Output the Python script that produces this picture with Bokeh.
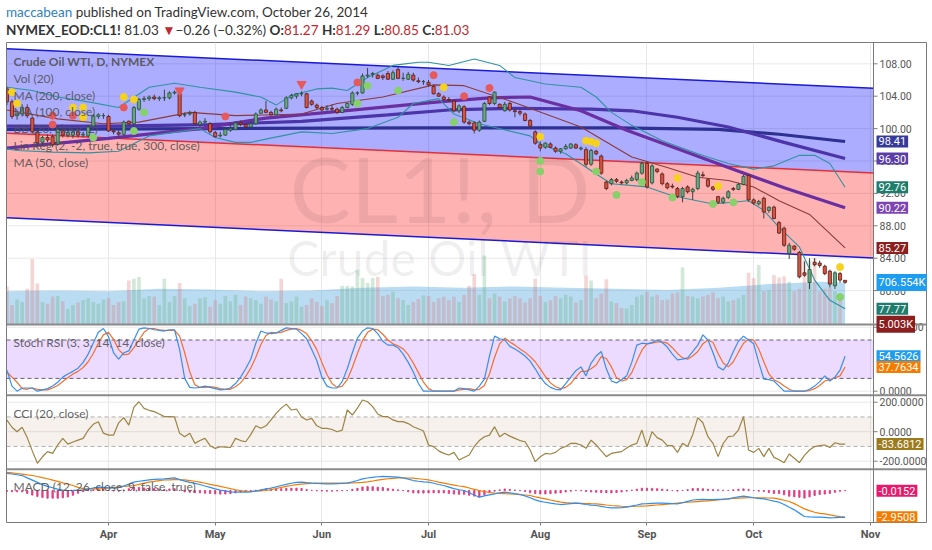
import numpy as np
from bokeh.plotting import figure
from bokeh.models import (Range1d, FixedTicker, Label, Span, BoxAnnotation, ColumnDataSource, Div)
from bokeh.layouts import column
from bokeh.embed import file_html
from bokeh.resources import INLINE
from bokeh.core.properties import value

# ---------------- data ----------------
month_bars = [20, 41, 62, 83, 105, 126, 147, 170]
month_names = ["Apr", "May", "Jun", "Jul", "Aug", "Sep", "Oct", "Nov"]

opens = [104.9,103.3,101.6,101.8,102.6,101.3,99.6,98.3,98.9,99.0, 98.1,99.8,99.2,99.2,99.6,99.2,99.1,100.3,101.5,101.6,
         101.5,99.7,99.5,99.3,100.9,100.6,102.4,103.6,103.7,103.9, 103.7,103.8,103.8,104.4,104.3,101.7,101.8,102.0,100.5,100.8,
         100.6,99.5,99.1,99.2,99.8,99.9,100.7,100.5,100.2,100.6, 101.9,102.3,102.0,101.7,102.3,102.5,103.8,104.0,104.3,104.3,
         103.4,102.9,102.6,102.4,102.5,102.4,102.0,102.6,103.0,104.4, 104.4,106.5,106.7,106.6,106.5,106.8,106.1,107.3,106.2,106.1,
         106.6,105.9,105.8,105.7,105.2,104.3,103.9,103.6,103.4,102.2, 102.7,100.8,100.7,99.8,100.9,103.9,103.1,103.0,102.2,103.1,
         102.2,102.1,101.8,101.0,99.6,98.0,97.7,98.1,97.6,97.2, 97.5,97.6,98.0,97.5,97.4,95.6,97.2,96.6,93.4,93.2,
         93.7,93.4,93.3,93.6,93.7,94.5,95.7,93.3,95.0,94.4, 93.2,92.9,92.6,91.6,92.8,92.2,92.6,94.3,93.7,92.8,
         91.6,90.9,91.5,92.6,92.5,93.1,94.2,91.2,90.7,91.4, 89.9,90.3,88.4,87.7,84.6,85.5,84.7,82.2,81.0,83.5,
         83.4,83.0,82.4,80.6,82.1,81.27]
highs = [105.2,103.6,102.0,103.0,103.0,101.5,99.8,99.1,99.3,99.3, 100.2,100.1,99.9,99.8,99.9,99.6,100.4,101.8,101.9,101.9,
         101.7,100.0,99.8,101.0,101.0,102.8,103.8,104.0,104.1,104.2, 104.0,104.8,104.6,104.7,104.5,102.0,102.2,102.2,101.0,101.3,
         100.8,99.7,99.6,100.2,100.8,100.9,101.0,100.6,100.9,102.0, 102.5,103.4,102.2,102.6,102.6,104.0,104.3,104.4,104.6,104.4,
         103.6,103.1,102.8,102.9,103.0,102.6,102.8,103.2,104.6,104.6, 106.8,107.5,107.0,106.8,106.7,107.1,107.2,107.6,106.9,107.0,
         106.9,106.3,106.0,106.0,105.4,104.5,104.1,103.9,103.6,103.0, 102.9,101.0,100.9,101.0,103.3,104.0,104.6,103.1,103.3,103.3,
         102.6,102.3,102.0,101.2,99.8,98.4,98.3,98.3,97.8,97.6, 98.1,98.2,98.2,97.8,97.7,97.5,97.4,96.8,93.6,93.9,
         93.9,93.6,93.8,94.2,94.7,95.9,95.9,95.6,95.1,94.6, 93.4,93.2,92.8,92.8,93.0,92.7,94.8,94.7,93.9,92.9,
         91.7,91.6,92.4,92.8,93.3,94.3,94.4,91.4,91.2,91.6, 90.4,90.5,88.6,87.9,85.9,85.6,84.9,83.6,84.0,84.0,
         83.7,83.2,82.6,82.4,82.3,81.29]
lows = [102.9,101.2,101.1,101.5,101.3,99.4,97.8,97.9,98.3,97.7, 97.9,98.9,98.9,98.8,98.9,98.9,98.9,100.1,101.2,101.2,
        99.6,99.3,98.9,99.2,100.4,100.4,102.2,103.3,103.4,103.5, 103.4,103.4,103.6,104.2,101.4,101.4,101.6,100.4,100.2,100.6,
        99.4,98.9,98.9,99.1,99.6,99.8,100.3,100.0,100.1,100.5, 101.8,101.9,101.6,101.6,102.0,102.4,103.6,103.7,104.0,102.5,
        102.8,102.4,102.1,102.2,102.2,101.8,101.9,102.5,102.8,104.1, 104.3,106.3,106.3,106.1,106.0,106.0,106.0,106.1,105.9,106.0,
        105.8,105.6,105.4,105.2,104.2,103.9,103.5,103.3,102.0,101.9, 100.6,100.4,99.4,99.6,100.8,102.9,102.9,102.4,102.1,102.1,
        101.4,101.6,100.9,100.1,98.0,97.2,97.5,97.6,97.0,96.9, 97.4,97.5,97.5,97.3,95.3,95.4,96.7,94.3,92.4,93.0,
        93.3,93.1,93.1,93.5,93.5,94.3,92.6,93.1,94.5,93.0, 92.5,92.6,91.4,90.9,92.0,91.2,92.4,94.0,92.7,92.3,
        90.7,90.7,91.3,92.3,92.4,93.0,91.0,90.6,90.5,88.9, 89.6,88.8,87.0,85.4,83.9,84.9,81.5,81.7,80.2,83.0,
        82.8,81.9,80.4,80.2,81.0,80.85]
closes = [103.3,101.5,101.8,102.6,101.6,99.6,98.2,98.9,98.6,98.0, 99.9,99.2,99.5,99.6,99.2,99.3,100.2,101.6,101.7,101.6,
          99.7,99.6,99.3,100.8,100.6,102.6,103.6,103.7,103.9,103.7, 103.8,103.8,104.4,104.5,101.6,101.7,101.9,100.6,100.8,100.9,
          99.6,99.0,99.2,99.9,100.0,100.7,100.5,100.2,100.6,101.8, 102.3,102.0,101.7,102.4,102.2,103.8,104.1,104.3,104.3,102.6,
          103.0,102.6,102.3,102.5,102.4,102.0,102.6,103.1,104.4,104.4, 106.5,106.6,106.8,106.2,106.3,106.1,106.9,106.2,106.2,106.7,
          106.0,105.8,105.8,105.4,104.3,104.0,103.6,103.5,102.2,102.8, 100.8,100.6,99.8,100.8,103.1,103.1,104.5,102.6,103.0,102.3,
          102.1,101.9,101.0,100.3,98.2,97.6,98.2,97.7,97.2,97.5, 97.8,98.1,97.6,97.6,95.6,97.3,96.9,94.5,92.6,93.7,
          93.5,93.3,93.6,93.9,94.5,95.7,92.8,95.4,94.7,93.2, 92.7,92.8,91.6,92.6,92.2,92.5,94.5,94.2,92.9,92.5,
          90.9,91.4,92.2,92.5,93.1,94.1,91.2,90.8,91.0,89.7, 90.3,88.9,87.1,85.6,85.6,85.1,81.7,81.9,82.6,83.2,
          83.1,82.1,80.8,82.2,81.3,81.03]
volume_k = [640,330,420,380,600,1100,690,380,350,470, 480,390,260,330,370,410,440,380,350,420,
            440,330,380,390,740,770,800,440,480,470, 330,770,380,480,700,440,310,350,440,460,
            300,410,350,480,390,500,330,470,440,410, 350,470,420,390,770,360,390,470,300,330,
            440,380,310,410,360,480,650,650,640,920, 780,700,780,800,480,500,550,440,410,330,
            380,430,490,480,380,440,470,410,470,380, 500,650,850,500,1160,440,520,470,390,440,
            480,440,370,440,770,480,380,410,480,440, 500,470,370,410,820,740,440,520,760,390,
            360,280,270,330,470,500,550,470,500,410, 420,520,540,960,480,470,440,470,500,540,
            440,470,390,410,440,500,870,780,1000,560, 580,830,790,810,720,560,600,1090,1080,1120,
            560,600,620,560,500,5.003]
vol_ma_bars = [0, 10, 20, 30, 40, 50, 60, 70, 80, 90, 100, 110, 120, 130, 140, 150, 155, 160, 165]
vol_ma_k = [560, 570, 560, 600, 590, 560, 570, 620, 640, 620, 640, 620, 600, 580, 620, 680, 700, 720, 706.554]

ma20_bars = [0, 10, 19, 26, 36, 45, 58, 65, 74, 84, 90, 100, 113, 123, 130, 136, 142, 147, 152, 158, 165]
ma20_vals = [102.3, 101.2, 100.6, 100.8, 102.0, 101.6, 101.8, 103.1, 103.9, 105.4, 105.3, 103.2, 100.2, 96.5, 95.2,
             94.0, 93.6, 92.8, 91.1, 89.4, 85.27]
ma50_bars = [0, 20, 38, 51, 70, 85, 95, 103, 113, 122, 132, 142, 153, 165]
ma50_vals = [97.6, 98.8, 100.0, 101.3, 102.4, 103.3, 103.8, 103.9, 102.2, 99.8, 97.5, 95.2, 92.7, 90.22]
ma100_bars = [0, 20, 40, 58, 75, 87, 100, 115, 123, 132, 142, 153, 165]
ma100_vals = [100.3, 100.3, 100.5, 100.9, 101.7, 102.3, 102.5, 102.4, 102.2, 101.4, 100.2, 98.3, 96.30]
ma200_bars = [0, 40, 80, 120, 140, 152, 165]
ma200_vals = [99.9, 100.0, 100.1, 100.1, 99.9, 99.3, 98.41]

bbu_bars = [0,5,10,16,22,28,33,38,45,50,53,56,61,64,67,71,76,81,83,87,92,97,100,106,113,116,119,123,129,136,142,147,151,156,159,162,165]
bbu_vals = [105.1,104.7,103.9,103.3,102.6,105.1,105.6,105.1,104.5,103.9,102.9,104.1,104.9,105.0,104.7,106.3,107.8,108.2,108.2,
            107.8,108.6,107.8,106.3,105.5,105.1,103.9,102.0,100.4,98.5,96.9,95.7,95.0,95.4,96.7,96.7,95.7,92.76]
bbl_bars = [0,2,9,16,22,28,38,41,45,48,51,58,64,71,77,80,85,88,93,103,105,110,116,119,126,131,139,146,149,152,156,159,162,165]
bbl_vals = [97.5,97.3,97.1,97.0,97.2,99.1,100.0,98.9,98.3,98.3,98.7,99.6,99.4,100.0,101.4,103.1,103.7,101.8,100.6,99.1,
            98.1,96.9,94.4,93.2,92.8,91.7,90.7,91.1,89.9,87.8,85.4,81.3,78.8,77.77]

reg_bars = [0, 170.6]
reg_mid = [99.43, 94.52]
reg_upper = [109.85, 104.97]
reg_lower = [88.99, 84.03]

yellow_x = [1, 2, 13, 15, 15, 23, 25, 86, 105, 114, 115, 116, 132, 140, 164]
yellow_y = [104.5, 103.1, 102.6, 102.6, 101.4, 103.9, 103.6, 105.1, 99.0, 98.5, 98.4, 98.2, 93.9, 92.9, 82.9]
red_x = [9, 9, 13, 23, 43, 69, 84, 90, 95]
red_y = [101.6, 100.5, 101.6, 102.6, 101.5, 105.7, 106.6, 104.0, 105.0]
green_x = [17, 25, 27, 69, 71, 77, 88, 105, 105, 116, 120, 125, 131, 139, 143, 164]
green_y = [98.9, 99.7, 102.0, 103.1, 105.3, 104.7, 100.8, 96.0, 94.7, 94.7, 91.8, 93.4, 91.5, 90.7, 90.9, 79.2]
tri_x = [34, 58]
tri_y = [104.7, 105.5]

stoch_k = [33,8,0,5,5,5,0,2,4,8, 14,22,27,31,36,45,58,75,92,98, 85,60,50,60,63,80,97,99,98,96,
           95,94,96,96,65,20,6,5,6,8, 6,4,2,3,5,12,22,35,50,75, 94,91,90,91,95,99,98,97,90,82,
           65,48,22,8,5,5,15,35,60,83, 94,99,98,90,78,72,72,68,58,45, 30,12,0,0,0,0,0,0,0,5,
           4,2,0,8,19,55,86,82,80,70, 66,61,55,47,35,22,12,6,3,2, 12,22,32,38,24,44,55,62,35,16,
           13,18,24,45,72,75,74,76,80,76, 69,58,49,50,52,62,72,88,80,60, 38,33,44,62,78,86,80,74,45,19,
           18,16,8,0,0,0,0,0,3,8, 15,24,16,22,33,54.5626]
stoch_d = [30,22,14,4,3,5,3,2,2,5, 9,15,21,27,31,37,46,59,75,88, 92,81,65,57,58,68,80,92,98,98,
           96,95,95,95,86,60,30,10,6,6, 7,6,4,3,3,7,13,23,36,53, 73,87,92,91,92,95,97,98,95,90,
           79,65,45,26,12,6,8,18,37,59, 79,92,97,96,89,80,74,71,66,57, 44,29,14,4,0,0,0,0,0,2,
           3,4,2,3,9,27,53,74,83,77, 72,66,61,54,46,35,23,13,7,4, 6,12,22,31,31,35,41,54,51,38,
           21,16,18,29,47,64,74,75,77,77, 75,68,59,52,50,55,62,74,80,76, 59,44,38,46,61,75,81,80,66,46,
           27,18,14,8,3,0,0,0,1,4, 9,16,18,21,24,37.7634]
cci = [79,30,0,30,-40,-130,-214,-170,-135,-147, -90,-45,-84,-70,-57,-45,10,50,68,-10,
       -23,-23,60,95,45,167,203,158,145,136, 120,102,102,100,-11,-34,-11,-79,-60,-45,
       -95,-113,-102,-105,-107,-45,-60,-68,-20,40, 23,40,80,124,160,187,147,154,100,79,
       90,40,23,23,15,0,11,147,113,160, 215,203,170,120,102,102,80,68,68,55,
       34,20,5,-90,-101,-130,-147,-158,-140,-192, -175,-158,-100,-60,-34,-23,34,-34,-11,-30,
       -45,-60,-68,-124,-203,-170,-147,-151,-140,-113, -100,-79,-79,-90,-113,-57,-90,-130,-169,-147,
       -140,-135,-110,-90,-79,11,-101,0,-40,-57, -95,-95,-140,-79,-101,-20,95,61,-34,-79,
       -169,-80,-34,-29,11,102,-124,-140,-113,-169, -113,-174,-190,-210,-151,-180,-210,-160,-124,-101,
       -95,-90,-107,-75,-84,-83.6812]
macd = [1.90,1.82,1.74,1.65,1.40,1.15,0.90,0.65,0.45,0.30, 0.15,0.05,0.00,0.02,0.05,0.07,0.15,0.28,0.37,0.34,
        0.30,0.29,0.32,0.50,0.70,0.92,1.02,1.10,1.18,1.22, 1.25,1.28,1.35,1.40,1.20,1.03,0.90,0.78,0.66,0.50,
        0.35,0.18,0.05,-0.05,-0.15,-0.18,-0.18,-0.18,-0.15,-0.05, 0.05,0.18,0.28,0.40,0.55,0.68,0.80,0.90,0.92,0.86,
        0.81,0.78,0.76,0.74,0.74,0.76,0.78,0.81,0.95,1.10, 1.29,1.38,1.46,1.52,1.55,1.53,1.50,1.47,1.38,1.25,
        1.10,1.02,0.96,0.92,0.80,0.66,0.55,0.38,0.20,0.08, 0.00,-0.25,-0.50,-0.74,-0.60,-0.48,-0.37,-0.25,-0.18,-0.25,
        -0.35,-0.44,-0.60,-0.80,-1.03,-1.20,-1.30,-1.40,-1.48,-1.55, -1.50,-1.45,-1.40,-1.45,-1.55,-1.62,-1.66,-1.75,-1.85,-1.92,
        -1.92,-1.90,-1.84,-1.72,-1.60,-1.47,-1.45,-1.42,-1.40,-1.40, -1.42,-1.45,-1.47,-1.35,-1.20,-1.05,-1.00,-0.98,-1.00,-1.00,
        -0.97,-0.95,-0.92,-0.80,-0.70,-0.63,-0.70,-0.80,-0.88,-0.92, -1.05,-1.18,-1.29,-1.55,-1.85,-2.14,-2.50,-2.87,-2.92,-2.95,
        -2.95,-2.98,-3.02,-3.00,-2.97,-2.966]
signal = [2.00,1.95,1.88,1.80,1.72,1.66,1.55,1.42,1.30,1.15, 1.00,0.85,0.72,0.55,0.35,0.20,0.18,0.18,0.18,0.22,
          0.28,0.35,0.40,0.45,0.50,0.55,0.68,0.82,0.92,1.00, 1.10,1.16,1.18,1.20,1.19,1.18,1.10,1.02,0.92,0.80,
          0.68,0.56,0.45,0.33,0.20,0.08,-0.02,-0.08,-0.11,-0.08, -0.04,0.00,0.10,0.22,0.35,0.45,0.55,0.64,0.70,0.76,
          0.79,0.81,0.82,0.82,0.81,0.81,0.81,0.81,0.83,0.86, 0.90,0.95,1.05,1.15,1.22,1.30,1.35,1.40,1.40,1.38,
          1.36,1.30,1.24,1.18,1.05,0.92,0.81,0.70,0.60,0.50, 0.42,0.28,0.12,0.00,-0.12,-0.22,-0.29,-0.32,-0.35,-0.37,
          -0.40,-0.45,-0.50,-0.55,-0.70,-0.82,-0.92,-1.05,-1.18,-1.29, -1.34,-1.38,-1.40,-1.42,-1.44,-1.46,-1.47,-1.53,-1.60,-1.66,
          -1.70,-1.74,-1.77,-1.76,-1.74,-1.72,-1.70,-1.65,-1.60,-1.55, -1.50,-1.45,-1.40,-1.35,-1.30,-1.26,-1.22,-1.18,-1.14,-1.10,
          -1.04,-0.98,-0.92,-0.88,-0.84,-0.81,-0.80,-0.80,-0.81,-0.82, -0.83,-0.85,-0.95,-1.08,-1.22,-1.45,-1.75,-2.03,-2.22,-2.40,
          -2.52,-2.58,-2.70,-2.80,-2.88,-2.9508]
macd_hist = [-0.10,-0.13,-0.14,-0.15,-0.32,-0.51,-0.65,-0.77,-0.85,-0.85, -0.85,-0.80,-0.72,-0.53,-0.30,-0.13,-0.03,0.10,0.19,0.12,
             0.02,-0.06,-0.08,0.05,0.20,0.37,0.34,0.28,0.26,0.22, 0.15,0.12,0.17,0.20,0.01,-0.15,-0.20,-0.24,-0.26,-0.30,
             -0.33,-0.38,-0.40,-0.38,-0.35,-0.26,-0.16,-0.10,-0.04,0.03, 0.09,0.18,0.18,0.18,0.20,0.23,0.25,0.26,0.22,0.10,
             0.02,-0.03,-0.06,-0.08,-0.07,-0.05,-0.03,0.00,0.12,0.24, 0.39,0.43,0.41,0.37,0.33,0.23,0.15,0.07,-0.02,-0.13,
             -0.26,-0.28,-0.28,-0.26,-0.25,-0.26,-0.26,-0.32,-0.40,-0.42, -0.42,-0.53,-0.62,-0.74,-0.48,-0.26,-0.08,0.07,0.17,0.12,
             0.05,0.01,-0.10,-0.25,-0.33,-0.38,-0.38,-0.35,-0.30,-0.26, -0.16,-0.07,0.00,-0.03,-0.11,-0.16,-0.19,-0.22,-0.25,-0.26,
             -0.22,-0.16,-0.07,0.04,0.14,0.25,0.25,0.23,0.20,0.15, 0.08,0.00,-0.07,0.00,0.10,0.21,0.22,0.20,0.14,0.10,
             0.07,0.03,0.00,0.08,0.14,0.18,0.10,0.00,-0.07,-0.10, -0.22,-0.33,-0.34,-0.47,-0.63,-0.69,-0.75,-0.84,-0.70,-0.55,
             -0.43,-0.40,-0.32,-0.20,-0.09,-0.0152]

price_ticks = [108, 104, 100, 96, 92, 88, 84, 80]
stoch_ticks = [100, 0]
cci_ticks = [200, 0, -200]

# ---------------- layout calibration (canvas pixels) ----------------
FRAME_TOP, FRAME_BOTTOM, FRAME_LEFT, FRAME_RIGHT, SCALE_X = 42, 522, 6, 927, 873
BAR_X0, BAR_DX = 6.4, 5.08
PANES = {"price": (938.1, 8.1), "vol": (324.0, 1 / 16.82), "stoch": (390.7, 0.64),
         "cci": (431.2, 0.1475), "macd": (490.0, 9.05)}


def pane_range(name):
    a, b = PANES[name]
    return Range1d(start=(a - FRAME_BOTTOM) / b, end=(a - FRAME_TOP) / b)


def as_price(name, v):
    a, b = PANES[name]
    pa, pb = PANES["price"]
    return (pa - (a - b * v)) / pb


def py(y):
    return (PANES["price"][0] - y) / PANES["price"][1]


def bx(x):
    return (x - BAR_X0) / BAR_DX


n = len(closes)
bars = np.arange(n)
o, h, l, c = (np.array(a, dtype=float) for a in (opens, highs, lows, closes))
up = c >= o
x0 = bx(FRAME_LEFT)
xs = bx(SCALE_X)

p = figure(width=FRAME_RIGHT, height=501, x_range=Range1d(x0, bx(FRAME_RIGHT)),
           y_range=pane_range("price"), toolbar_location=None, output_backend="svg",
           y_axis_location=None, min_border_left=FRAME_LEFT, min_border_top=0,
           min_border_bottom=21, min_border_right=0,
           background_fill_color="white", border_fill_color="white")
p.extra_y_ranges = {k: pane_range(k) for k in ("vol", "stoch", "cci", "macd")}
p.outline_line_color = "#7a7a7a"

# time axis
p.xaxis.ticker = FixedTicker(ticks=month_bars)
p.xaxis.major_label_overrides = {b: m for b, m in zip(month_bars, month_names)}
p.xaxis.major_label_text_font = "Roboto"
p.xaxis.major_label_text_font_size = "11px"
p.xaxis.major_label_text_font_style = "bold"
p.xaxis.major_label_text_color = "#555555"
p.xaxis.major_tick_in = 0
p.xaxis.major_tick_out = 3
p.xaxis.minor_tick_out = 0
p.xaxis.major_label_standoff = 2
p.xaxis.axis_line_color = None
p.xaxis.major_tick_line_color = "#7a7a7a"
p.xgrid.ticker = FixedTicker(ticks=month_bars)
p.xgrid.grid_line_color = "#e8e8e8"
p.ygrid.visible = False

# right value scale (price pane + indicator panes share one scale column)
tick_pos = [float(t) for t in price_ticks]
tick_lab = ["%.2f" % t for t in price_ticks]
for t in stoch_ticks:
    tick_pos.append(as_price("stoch", t)); tick_lab.append("%.4f" % t)
for t in cci_ticks:
    tick_pos.append(as_price("cci", t)); tick_lab.append("%.4f" % t)
p.segment(x0=[x0] * len(tick_pos), x1=[xs] * len(tick_pos), y0=tick_pos, y1=tick_pos,
          line_color="#e8e8e8", line_width=1, level="underlay")
p.add_layout(Span(location=xs, dimension="height", line_color="#7a7a7a", line_width=1))
p.segment(x0=[xs] * len(tick_pos), x1=[bx(SCALE_X + 4)] * len(tick_pos), y0=tick_pos, y1=tick_pos,
          line_color="#7a7a7a", line_width=1)
p.text(x=[bx(SCALE_X + 6)] * len(tick_pos), y=tick_pos, text=tick_lab, text_font=value("Roboto"),
       text_font_size="10.5px", text_color="#555555", text_baseline="middle", text_align="left")

# ---- main pane ----
p.varea(x=reg_bars, y1=reg_mid, y2=reg_upper, fill_color="#0000ff", fill_alpha=0.32)
p.varea(x=reg_bars, y1=reg_lower, y2=reg_mid, fill_color="#ff0000", fill_alpha=0.30)
p.line(reg_bars, reg_upper, line_color="#1a1ad6", line_width=1.5)
p.line(reg_bars, reg_lower, line_color="#1a1ad6", line_width=1.5)
p.line(reg_bars, reg_mid, line_color="#e0303a", line_width=1.5)

xmid = (x0 + xs) / 2
p.text(x=[xmid], y=[py(187)], text=["CL1!, D"], text_font=value("Lato"), text_font_size="92px",
       text_align="center", text_baseline="alphabetic", text_color="#000000", text_alpha=0.07)
p.text(x=[xmid], y=[py(257)], text=["Crude Oil WTI"], text_font=value("Lato"), text_font_size="48px",
       text_align="center", text_baseline="alphabetic", text_color="#000000", text_alpha=0.07)

# volume
p.varea(x=vol_ma_bars, y1=0, y2=vol_ma_k, y_range_name="vol", fill_color="#4aa3df", fill_alpha=0.38)
vcol = np.where(up, "#5fae72", "#d86a6a")
p.vbar(x=bars, top=volume_k, bottom=0, width=0.72, y_range_name="vol",
       fill_color=vcol.tolist(), fill_alpha=0.28, line_color=None)

# moving averages and bands
p.line(ma200_bars, ma200_vals, line_color="#2e3192", line_width=3.2)
p.line(ma100_bars, ma100_vals, line_color="#4b35a8", line_width=3.2)
p.line(ma50_bars, ma50_vals, line_color="#6a2fa0", line_width=3.2)
p.line(bbu_bars, bbu_vals, line_color="#2f93a0", line_width=1.1)
p.line(bbl_bars, bbl_vals, line_color="#2f93a0", line_width=1.1)
p.line(ma20_bars, ma20_vals, line_color="#8b3a3a", line_width=1.1)

# candles
src_up = ColumnDataSource(dict(x=bars[up], h=h[up], l=l[up], top=c[up], bot=o[up]))
src_dn = ColumnDataSource(dict(x=bars[~up], h=h[~up], l=l[~up], top=o[~up], bot=c[~up]))
for src, fill, edge in ((src_up, "#6ba583", "#225437"), (src_dn, "#d75442", "#5b1a13")):
    p.segment(x0="x", y0="l", x1="x", y1="h", source=src, line_color="#404040", line_width=1)
    p.vbar(x="x", top="top", bottom="bot", width=0.62, source=src, fill_color=fill, line_color=edge, line_width=0.8)

# signal dots
p.scatter(yellow_x, yellow_y, size=7, color="#f5d21e")
p.scatter(red_x, red_y, size=7, color="#e8595a")
p.scatter(green_x, green_y, size=7, color="#86d16a")
p.scatter(tri_x, tri_y, size=9, marker="inverted_triangle", color="#e8595a")

# ---- Stoch RSI pane ----
p.add_layout(BoxAnnotation(left=x0, right=xs, bottom=20, top=80, y_range_name="stoch", fill_color="#9933ff",
                           fill_alpha=0.18, line_color=None, level="underlay"))
p.segment(x0=[x0, x0], x1=[xs, xs], y0=[80, 20], y1=[80, 20], y_range_name="stoch",
          line_color="#6b5b7b", line_dash="4 3", line_width=1)
p.line(bars, stoch_d, y_range_name="stoch", line_color="#f07030", line_width=1.2)
p.line(bars, stoch_k, y_range_name="stoch", line_color="#3b8fe8", line_width=1.2)

# ---- CCI pane ----
p.add_layout(BoxAnnotation(left=x0, right=xs, bottom=-100, top=100, y_range_name="cci", fill_color="#996633",
                           fill_alpha=0.09, line_color=None, level="underlay"))
p.segment(x0=[x0, x0], x1=[xs, xs], y0=[100, -100], y1=[100, -100], y_range_name="cci",
          line_color="#b0b0b0", line_dash="4 3", line_width=1)
p.line(bars, cci, y_range_name="cci", line_color="#9b8444", line_width=1.2)

# ---- MACD pane ----
p.vbar(x=bars, top=macd_hist, bottom=0, width=0.26, y_range_name="macd", color="#e0307a", alpha=0.85)
p.line(bars, signal, y_range_name="macd", line_color="#f57c00", line_width=1.2)
p.line(bars, macd, y_range_name="macd", line_color="#2d8ff0", line_width=1.2)

# pane separators
for ysep in (324, 394.7, 468.7):
    p.add_layout(Span(location=py(ysep), dimension="width", line_color="#8a8a8a", line_width=2))

# legends
legend_rows = [("Crude Oil WTI, D, NYMEX", 60.7, "bold"), ("Vol (20)", 77.5, "normal"),
               ("MA (200, close)", 94.5, "normal"), ("MA (100, close)", 111.3, "normal"),
               ("BB (20, close, 2)", 128.0, "normal"), ("Lin Reg (2, -2, true, true, 300, close)", 145.0, "normal"),
               ("MA (50, close)", 161.7, "normal"), ("Stoch RSI (3, 3, 14, 14, close)", 342.0, "normal"),
               ("CCI (20, close)", 412.7, "normal"), ("MACD (12, 26, close, 9, false, true)", 485.7, "normal")]
for txt, yy, style in legend_rows:
    p.add_layout(Label(x=bx(13), y=py(yy), text=txt, text_font="Lato", text_font_size="12px",
                       text_font_style=style, text_color="#505050", text_alpha=0.9, text_baseline="middle"))

# value badges on the right scale
badges = [("%.2f" % ma200_vals[-1], "price", ma200_vals[-1], "#353a9c"),
          ("%.2f" % ma100_vals[-1], "price", ma100_vals[-1], "#5a3da8"),
          ("%.2f" % bbu_vals[-1], "price", bbu_vals[-1], "#1f7d6d"),
          ("%.2f" % ma50_vals[-1], "price", ma50_vals[-1], "#7d44b3"),
          ("%.2f" % ma20_vals[-1], "price", ma20_vals[-1], "#8b1e1e"),
          ("%.3fK" % vol_ma_k[-1], "vol", vol_ma_k[-1], "#1e9cf0"),
          ("%.2f" % bbl_vals[-1], "price", bbl_vals[-1], "#1f7d6d"),
          ("%.3fK" % volume_k[-1], "vol", volume_k[-1], "#8b1e1e"),
          ("%.4f" % stoch_k[-1], "stoch", stoch_k[-1], "#1e9cf0"),
          ("%.4f" % stoch_d[-1], "stoch", stoch_d[-1], "#f57c00"),
          ("%.4f" % cci[-1], "cci", cci[-1], "#9c7a1e"),
          ("%.4f" % macd_hist[-1], "macd", macd_hist[-1], "#e8196a"),
          ("%.4f" % signal[-1], "macd", signal[-1], "#f57c00")]
for txt, rn, v, col in badges:
    kw = {} if rn == "price" else {"y_range_name": rn}
    p.add_layout(Label(x=bx(SCALE_X + 3), y=v, text=txt, text_font="Roboto", text_font_size="11px",
                       text_color="white", text_baseline="middle", background_fill_color=col,
                       padding=2, **kw))

header = Div(text=(
    '<div style="font-family:Lato,sans-serif;font-size:13.5px;line-height:18px;color:#333;white-space:nowrap;'
    'padding-top:3px;padding-left:6px">'
    '<span style="color:#2f7fc1">maccabean</span> published on TradingView.com, October 26, 2014<br>'
    '<b>NYMEX_EOD:CL1!</b> 81.03 <span style="color:#c0282d">&#9660;</span>&minus;0.26 (&minus;0.32%) '
    '<b>O:</b><span style="color:#c0282d">81.27</span> <b>H:</b><span style="color:#c0282d">81.29</span> '
    '<b>L:</b><span style="color:#c0282d">80.85</span> <b>C:</b><span style="color:#c0282d">81.03</span></div>'),
    width=FRAME_RIGHT, height=FRAME_TOP, margin=(0, 0, 0, 0))

layout = column(header, p, spacing=0)
open("out.html", "w").write(file_html(layout, INLINE))
